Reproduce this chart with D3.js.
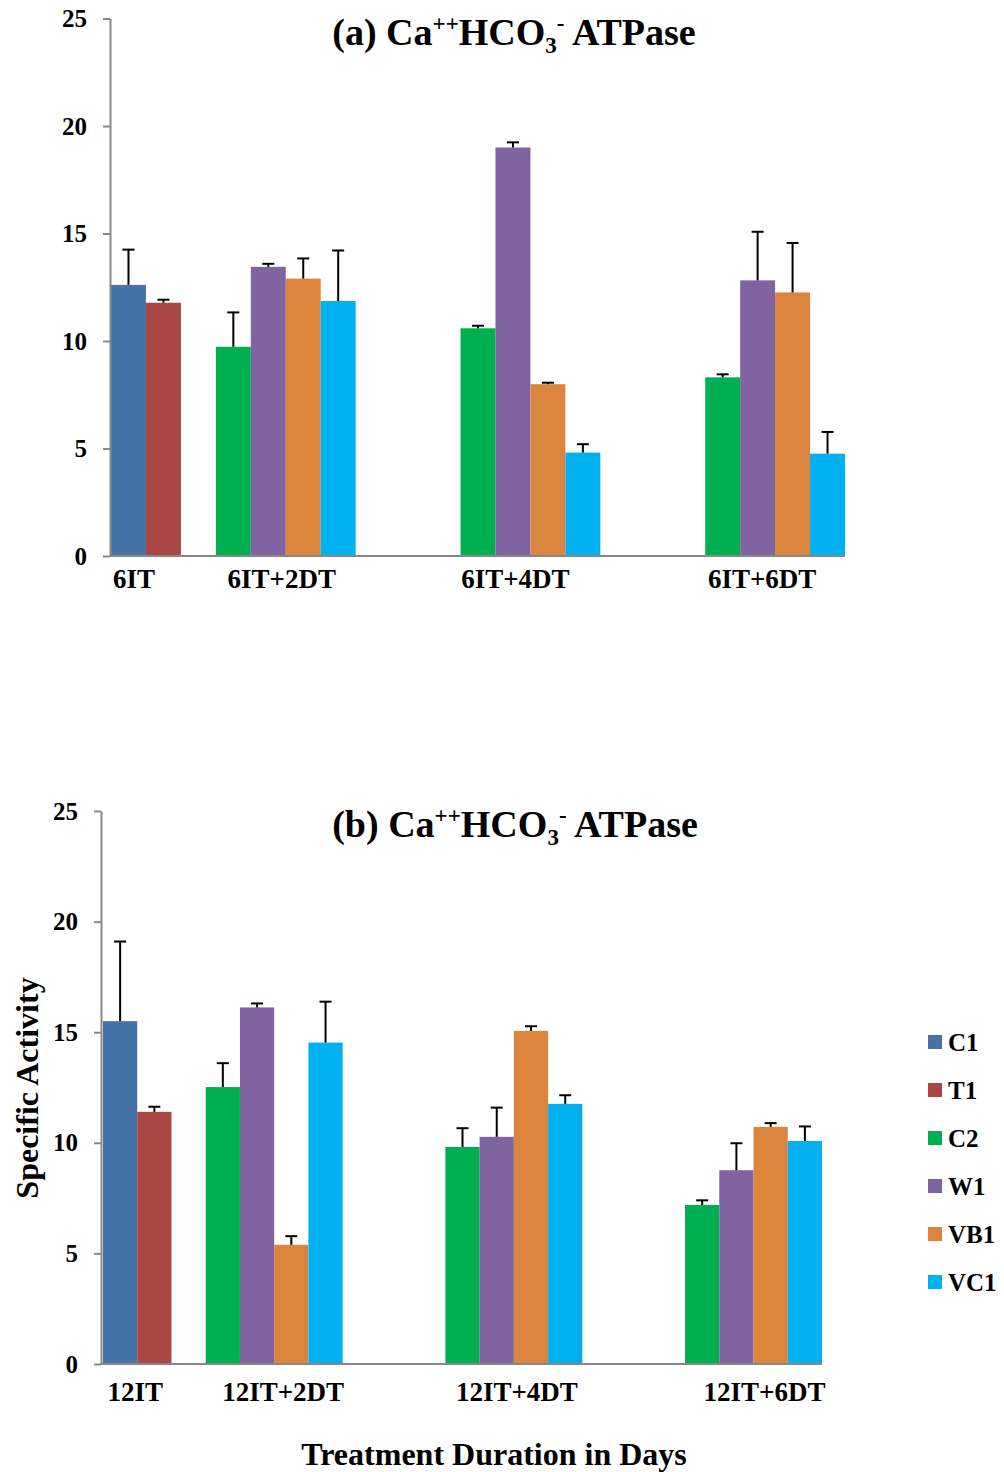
<!DOCTYPE html>
<html>
<head>
<meta charset="utf-8">
<script src="https://cdn.jsdelivr.net/npm/d3@7.9.0/dist/d3.min.js"></script>
<style>
  html, body { margin: 0; padding: 0; background: #fff; }
  svg { display: block; }
  text { font-family: "Liberation Serif", "Times New Roman", serif; font-weight: bold; fill: #000; }
</style>
</head>
<body>
<div id="chart"></div>
<script>
// series shared by both panels
const series = ["C1", "T1", "C2", "W1", "VB1", "VC1"];
const colors = ["#4572A7", "#AA4643", "#00B050", "#8064A2", "#DB843D", "#00B0F0"];
const yTicks = [0, 5, 10, 15, 20, 25];

// panel (a)
const categoriesA = ["6IT", "6IT+2DT", "6IT+4DT", "6IT+6DT"];
// values per category, in series order (null = not measured)
const meansA = [
  [12.61, 11.78, null, null, null, null],
  [null, null, 9.73, 13.45, 12.9, 11.86],
  [null, null, 10.59, 19.0, 7.99, 4.81],
  [null, null, 8.31, 12.82, 12.26, 4.76],
];
const errorsA = [
  [1.64, 0.14, null, null, null, null],
  [null, null, 1.6, 0.14, 0.94, 2.35],
  [null, null, 0.12, 0.24, 0.07, 0.39],
  [null, null, 0.14, 2.26, 2.3, 1.01],
];

// panel (b)
const categoriesB = ["12IT", "12IT+2DT", "12IT+4DT", "12IT+6DT"];
const meansB = [
  [15.5, 11.4, null, null, null, null],
  [null, null, 12.52, 16.12, 5.39, 14.53],
  [null, null, 9.81, 10.27, 15.06, 11.76],
  [null, null, 7.19, 8.76, 10.72, 10.08],
];
const errorsB = [
  [3.6, 0.23, null, null, null, null],
  [null, null, 1.08, 0.18, 0.39, 1.85],
  [null, null, 0.85, 1.32, 0.21, 0.39],
  [null, null, 0.21, 1.22, 0.17, 0.66],
];

const W = 1004, H = 1472;
const axisColor = "#888888";

const svg = d3.select("#chart").append("svg")
  .attr("width", W).attr("height", H)
  .attr("viewBox", `0 0 ${W} ${H}`);

svg.append("rect").attr("width", W).attr("height", H).attr("fill", "#fff");

// slot where each category's first bar sits (bars are one slot wide)
const groupStart = [0, 3, 10, 17];
const nSlots = 21;

function drawPanel(cfg) {
  const g = svg.append("g");

  const x = d3.scaleBand()
    .domain(d3.range(nSlots))
    .range([cfg.barLeft, cfg.barRight])
    .padding(0);

  const y = d3.scaleLinear()
    .domain([0, 25])
    .range([cfg.bottom, cfg.top]);

  // flatten to bar records
  const bars = [];
  cfg.categories.forEach((cat, ci) => {
    let slot = groupStart[ci];
    cfg.means[ci].forEach((v, si) => {
      if (v == null) return;
      bars.push({ cat: ci, series: si, value: v, err: cfg.errors[ci][si], slot: slot++ });
    });
  });

  g.selectAll("rect.bar")
    .data(bars)
    .join("rect")
    .attr("class", "bar")
    .attr("x", (d) => x(d.slot))
    .attr("width", x.bandwidth())
    .attr("y", (d) => y(d.value))
    .attr("height", (d) => y(0) - y(d.value))
    .attr("fill", (d) => colors[d.series]);

  // error bars (upper only)
  const eb = g.selectAll("g.err")
    .data(bars)
    .join("g")
    .attr("class", "err")
    .attr("stroke", "#000")
    .attr("stroke-width", 2);

  eb.append("line")
    .attr("x1", (d) => x(d.slot) + x.bandwidth() / 2)
    .attr("x2", (d) => x(d.slot) + x.bandwidth() / 2)
    .attr("y1", (d) => y(d.value))
    .attr("y2", (d) => y(d.value + d.err));

  eb.append("line")
    .attr("x1", (d) => x(d.slot) + x.bandwidth() / 2 - 6)
    .attr("x2", (d) => x(d.slot) + x.bandwidth() / 2 + 6)
    .attr("y1", (d) => y(d.value + d.err))
    .attr("y2", (d) => y(d.value + d.err));

  // y axis
  const yAxis = g.append("g")
    .attr("transform", `translate(${cfg.axisX},0)`)
    .call(d3.axisLeft(y).tickValues(yTicks).tickSize(7).tickSizeOuter(0).tickPadding(16));
  yAxis.select(".domain").attr("stroke", axisColor).attr("stroke-width", 2);
  yAxis.selectAll(".tick line").attr("stroke", axisColor).attr("stroke-width", 2);
  yAxis.selectAll(".tick text")
    .attr("font-size", 25)
    .attr("font-family", '"Liberation Serif", "Times New Roman", serif')
    .attr("font-weight", "bold")
    .attr("fill", "#000");

  // x axis baseline
  g.append("line")
    .attr("x1", cfg.axisX).attr("x2", cfg.barRight)
    .attr("y1", y(0)).attr("y2", y(0))
    .attr("stroke", axisColor).attr("stroke-width", 2);

  // category labels
  g.selectAll("text.cat")
    .data(cfg.categories)
    .join("text")
    .attr("class", "cat")
    .attr("text-anchor", "middle")
    .attr("font-size", 27)
    .attr("x", (d, i) => {
      const n = cfg.means[i].filter((v) => v != null).length;
      return x(groupStart[i]) + (n * x.bandwidth()) / 2 + cfg.labelShift[i];
    })
    .attr("y", cfg.bottom + cfg.labelDrop)
    .text((d) => d);

  // title with super/subscripts
  const t = g.append("text")
    .attr("x", cfg.titleX)
    .attr("y", cfg.titleY)
    .attr("text-anchor", "middle")
    .attr("font-size", 38);
  t.append("tspan").text(cfg.prefix + " Ca");
  t.append("tspan").attr("font-size", 23).attr("dy", -14).text("++");
  t.append("tspan").attr("dy", 14).text("HCO");
  t.append("tspan").attr("font-size", 23).attr("dy", 8).text("3");
  t.append("tspan").attr("font-size", 23).attr("dy", -22).text("-");
  t.append("tspan").attr("dy", 14).text(" ATPase");
}

drawPanel({
  categories: categoriesA, means: meansA, errors: errorsA,
  top: 18.5, bottom: 556, axisX: 110, barLeft: 111, barRight: 845,
  labelShift: [-12, -4, -15, -13], labelDrop: 32,
  titleX: 514, titleY: 45, prefix: "(a)",
});

drawPanel({
  categories: categoriesB, means: meansB, errors: errorsB,
  top: 811, bottom: 1364, axisX: 101, barLeft: 103, barRight: 822,
  labelShift: [-2, 9, 3, 11], labelDrop: 37,
  titleX: 515, titleY: 837, prefix: "(b)",
});

// axis titles
svg.append("text")
  .attr("transform", "translate(38,1088) rotate(-90)")
  .attr("text-anchor", "middle")
  .attr("font-size", 32)
  .text("Specific Activity");

svg.append("text")
  .attr("x", 494)
  .attr("y", 1465)
  .attr("text-anchor", "middle")
  .attr("font-size", 32)
  .text("Treatment Duration in Days");

// legend
const legend = svg.append("g").attr("transform", "translate(928,1042)");
const li = legend.selectAll("g")
  .data(series)
  .join("g")
  .attr("transform", (d, i) => `translate(0,${i * 48})`);
li.append("rect")
  .attr("x", 0).attr("y", -7)
  .attr("width", 14).attr("height", 14)
  .attr("fill", (d, i) => colors[i]);
li.append("text")
  .attr("x", 20)
  .attr("y", 0)
  .attr("dy", "0.35em")
  .attr("font-size", 25)
  .text((d) => d);
</script>
</body>
</html>
